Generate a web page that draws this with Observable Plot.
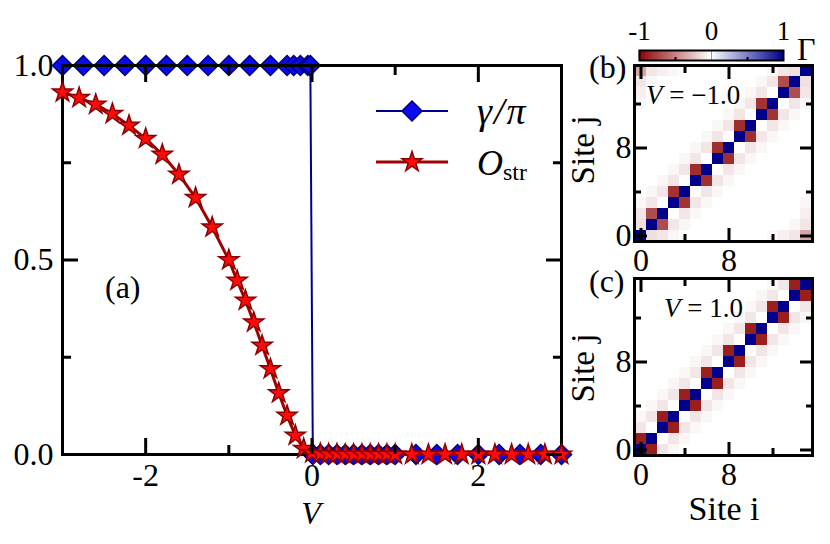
<!DOCTYPE html>
<html><head><meta charset="utf-8">
<script src="https://cdn.jsdelivr.net/npm/d3@7"></script>
<script src="https://cdn.jsdelivr.net/npm/@observablehq/plot@0.6"></script>
<style>
html,body{margin:0;padding:0;background:#fff;}
#root{position:relative;width:830px;height:544px;overflow:hidden;font-family:"Liberation Serif",Tinos,"Times New Roman",Times,"DejaVu Serif",serif;}
#root > svg, #root > figure{position:absolute;margin:0;}
#root text{font-family:"Liberation Serif",Tinos,"Times New Roman",Times,"DejaVu Serif",serif;}
</style></head>
<body><div id="root"></div>
<script>
// ---------- data: panel (a) ----------
const gammaV = [-3,-2.75,-2.5,-2.25,-2,-1.75,-1.5,-1.25,-1,-0.75,-0.5,-0.3,-0.22,-0.14,-0.05,-0.02,
                0.01,0.1,0.2,0.3,0.4,0.5,0.6,0.7,0.8,0.9,1.0,1.25,1.5,1.75,2,2.25,2.5,2.75,3];
const gammaVal = [1,1,1,1,1,1,1,1,1,1,1,1,1,1,1,1,
                  0,0,0,0,0,0,0,0,0,0,0,0,0,0,0,0,0,0,0];
const ostrV = [-3,-2.8,-2.6,-2.4,-2.2,-2,-1.8,-1.6,-1.4,-1.2,-1,-0.9,-0.8,-0.7,-0.6,-0.5,-0.4,-0.3,-0.2,-0.1,
               0,0.1,0.2,0.3,0.4,0.5,0.6,0.7,0.8,0.9,1,1.2,1.4,1.6,1.8,2,2.2,2.4,2.6,2.8,3];
const ostrVal = [0.931,0.917,0.900,0.876,0.846,0.812,0.771,0.720,0.660,0.584,0.500,0.447,0.396,0.340,0.280,0.220,0.158,0.100,0.049,0.015,
                 0.004,0.002,0.001,0.001,0,0,0,0,0,0,0,0,0,0,0,0,0,0,0,0,0];
const xMajor = [-2,0,2], xMinor = [-1,1];
const yMajor = [0,0.5,1], yMinor = [0.25,0.75];
const seriesLabels = ["γ/π", "O", "str"];

// ---------- data: panels (b), (c) — Γ(i,j), rows = site j (0 at bottom), columns = site i ----------
const sites = [0,1,2,3,4,5,6,7,8,9,10,11,12,13,14,15];
const gammaB = [ // V = -1.0
 [1,-0.12,-0.1,-0.03,0,0,0,0,0,0,0,0,-0.03,-0.06,-0.1,-0.35],
 [-0.12,1,-0.7,-0.1,-0.03,0,0,0,0,0,0,0,0,0,-0.03,-0.1],
 [-0.1,-0.7,1,0,-0.1,-0.03,0,0,0,0,0,0,0,0,0,-0.06],
 [-0.03,-0.1,0,1,-0.8,-0.1,-0.03,0,0,0,0,0,0,0,0,-0.03],
 [0,-0.03,-0.1,-0.8,1,0,-0.1,-0.03,0,0,0,0,0,0,0,0],
 [0,0,-0.03,-0.1,0,1,-0.82,-0.1,-0.03,0,0,0,0,0,0,0],
 [0,0,0,-0.03,-0.1,-0.82,1,0,-0.1,-0.03,0,0,0,0,0,0],
 [0,0,0,0,-0.03,-0.1,0,1,-0.82,-0.1,-0.03,0,0,0,0,0],
 [0,0,0,0,0,-0.03,-0.1,-0.82,1,0,-0.1,-0.03,0,0,0,0],
 [0,0,0,0,0,0,-0.03,-0.1,0,1,-0.82,-0.1,-0.03,0,0,0],
 [0,0,0,0,0,0,0,-0.03,-0.1,-0.82,1,0,-0.1,-0.03,0,0],
 [0,0,0,0,0,0,0,0,-0.03,-0.1,0,1,-0.8,-0.1,-0.03,0],
 [-0.03,0,0,0,0,0,0,0,0,-0.03,-0.1,-0.8,1,0,-0.1,-0.03],
 [-0.06,0,0,0,0,0,0,0,0,0,-0.03,-0.1,0,1,-0.7,-0.1],
 [-0.1,-0.03,0,0,0,0,0,0,0,0,0,-0.03,-0.1,-0.7,1,-0.12],
 [-0.35,-0.1,-0.06,-0.03,0,0,0,0,0,0,0,0,-0.03,-0.1,-0.12,1]
];
const gammaC = [ // V = 1.0
 [1,-0.88,-0.1,-0.03,0,0,0,0,0,0,0,0,0,0,0,0],
 [-0.88,1,0,-0.1,-0.03,0,0,0,0,0,0,0,0,0,0,0],
 [-0.1,0,1,-0.88,-0.1,-0.03,0,0,0,0,0,0,0,0,0,0],
 [-0.03,-0.1,-0.88,1,0,-0.1,-0.03,0,0,0,0,0,0,0,0,0],
 [0,-0.03,-0.1,0,1,-0.88,-0.1,-0.03,0,0,0,0,0,0,0,0],
 [0,0,-0.03,-0.1,-0.88,1,0,-0.1,-0.03,0,0,0,0,0,0,0],
 [0,0,0,-0.03,-0.1,0,1,-0.88,-0.1,-0.03,0,0,0,0,0,0],
 [0,0,0,0,-0.03,-0.1,-0.88,1,0,-0.1,-0.03,0,0,0,0,0],
 [0,0,0,0,0,-0.03,-0.1,0,1,-0.88,-0.1,-0.03,0,0,0,0],
 [0,0,0,0,0,0,-0.03,-0.1,-0.88,1,0,-0.1,-0.03,0,0,0],
 [0,0,0,0,0,0,0,-0.03,-0.1,0,1,-0.88,-0.1,-0.03,0,0],
 [0,0,0,0,0,0,0,0,-0.03,-0.1,-0.88,1,0,-0.1,-0.03,0],
 [0,0,0,0,0,0,0,0,0,-0.03,-0.1,0,1,-0.88,-0.1,-0.03],
 [0,0,0,0,0,0,0,0,0,0,-0.03,-0.1,-0.88,1,0,-0.1],
 [0,0,0,0,0,0,0,0,0,0,0,-0.03,-0.1,0,1,-0.88],
 [0,0,0,0,0,0,0,0,0,0,0,0,-0.03,-0.1,-0.88,1]
];
const heatMajor = [0,8], heatMinor = [4,12];
const cbTicks = [-1,0,1], cbMinor = [-0.5,0.5];

// ---------- build ----------
const root = document.getElementById("root");
const FONT = '"Liberation Serif", Tinos, "Times New Roman", Times, "DejaVu Serif", serif';
const baseStyle = {fontFamily: FONT, background: "transparent", color: "black", overflow: "visible"};
function place(el, left, top){ el.style.position="absolute"; el.style.left=left+"px"; el.style.top=top+"px"; root.appendChild(el); }

const gammaData = gammaV.map((V,k)=>({V, g: gammaVal[k]}));
const ostrData = ostrV.map((V,k)=>({V, o: ostrVal[k]}));

function inTicks(kind, anchor, ticks, size){
  const f = kind === "x" ? Plot.axisX : Plot.axisY;
  return f({anchor, ticks, tickSize: -size, tickFormat: () => "", strokeWidth: 3, label: null});
}

const main = Plot.plot({
  width: 600, height: 544,
  marginLeft: 62, marginRight: 39, marginTop: 65, marginBottom: 90,
  style: baseStyle,
  x: {domain: [-3,3], label: null},
  y: {domain: [0,1], label: null},
  marks: [
    Plot.line(gammaData, {x:"V", y:"g", stroke:"#000090", strokeWidth: 2}),
    Plot.dot(gammaData, {x:"V", y:"g", symbol:"diamond2", r: 9, fill:"#0a0af0", stroke:"#00007a", strokeWidth: 1.5}),
    Plot.frame({stroke:"black", strokeWidth: 3}),
    Plot.line(ostrData, {x:"V", y:"o", stroke:"#a00000", strokeWidth: 3}),
    Plot.dot(ostrData, {x:"V", y:"o", symbol:"star", r: 6.3, fill:"#ff0a0a", stroke:"#8b0000", strokeWidth: 1.5}),
    Plot.axisX({anchor:"bottom", ticks: xMajor, tickSize: 0, tickPadding: 9, tickFormat: d => String(d), fontSize: 32, label: null}),
    Plot.axisY({anchor:"left", ticks: yMajor, tickSize: 0, tickPadding: 9, tickFormat: d3.format(".1f"), fontSize: 32, label: null}),
    inTicks("x","bottom", xMajor, 16), inTicks("x","top", xMajor, 16),
    inTicks("x","bottom", xMinor, 9), inTicks("x","top", xMinor, 9),
    inTicks("y","left", yMajor, 16), inTicks("y","right", yMajor, 16),
    inTicks("y","left", yMinor, 9), inTicks("y","right", yMinor, 9)
  ]
});
place(main, 0, 0);

const colorOpts = {type: "linear", domain: [-1, 0, 1], range: ["#8b0000", "#ffffff", "#00008b"], interpolate: "rgb", clamp: true};

function heat(matrix, top, height, mt, mb){
  const cells = [];
  matrix.forEach((row, j) => row.forEach((v, i) => cells.push({i: sites[i], j: sites[j], v})));
  const p = Plot.plot({
    width: 270, height,
    marginLeft: 74, marginRight: 18, marginTop: mt, marginBottom: mb,
    style: baseStyle,
    x: {type: "band", domain: sites, padding: 0, label: null},
    y: {type: "band", domain: sites, padding: 0, reverse: true, label: null},
    color: colorOpts,
    marks: [
      Plot.cell(cells, {x: "i", y: "j", fill: "v", inset: 0}),
      Plot.frame({stroke: "black", strokeWidth: 3}),
      Plot.axisX({anchor:"bottom", ticks: heatMajor, tickSize: 0, tickPadding: 7, fontSize: 32, label: null}),
      Plot.axisY({anchor:"left", ticks: heatMajor, tickSize: 0, tickPadding: 3, fontSize: 32, label: null}),
      inTicks("x","bottom", heatMajor, 13), inTicks("x","top", heatMajor, 13),
      inTicks("x","bottom", heatMinor, 7), inTicks("x","top", heatMinor, 7),
      inTicks("y","left", heatMajor, 13), inTicks("y","right", heatMajor, 13),
      inTicks("y","left", heatMinor, 7), inTicks("y","right", heatMinor, 7)
    ]
  });
  place(p, 560, top);
}
heat(gammaB, 0, 275, 65, 34);
heat(gammaC, 275, 269, 3, 89);

// colorbar
const ramp = d3.range(0, 200).map(k => ({a: -1 + k*0.01, b: -1 + (k+1)*0.01}));
const cb = Plot.plot({
  width: 230, height: 66, marginLeft: 39, marginRight: 47, marginTop: 50, marginBottom: 6,
  style: baseStyle,
  x: {domain: [-1, 1], label: null},
  color: colorOpts,
  marks: [
    Plot.rect(ramp, {x1: "a", x2: "b", fill: d => (d.a + d.b) / 2, insetLeft: -0.3, insetRight: -0.3}),
    Plot.ruleX([0], {stroke: "#999", strokeWidth: 1}),
    Plot.frame({stroke: "black", strokeWidth: 2}),
    Plot.axisX({anchor: "top", ticks: cbTicks, tickSize: 0, tickPadding: 11, tickFormat: d => String(d), fontSize: 27, label: null}),
    Plot.axisX({anchor: "bottom", ticks: cbMinor, tickSize: -3, tickFormat: () => "", strokeWidth: 2, label: null})
  ]
});
place(cb, 600, 0);

// text overlay and legend
const ov = d3.create("svg").attr("width", 830).attr("height", 544)
  .style("position","absolute").style("left","0px").style("top","0px")
  .style("font-family", FONT).attr("fill", "black");
ov.append("text").attr("x", 105).attr("y", 298).attr("font-size", 32).text("(a)");
ov.append("text").attr("x", 311).attr("y", 524).attr("font-size", 32).attr("font-style","italic").attr("text-anchor","middle").text("V");
// legend
const lg = ov.append("g");
lg.append("line").attr("x1", 376).attr("x2", 448).attr("y1", 111).attr("y2", 111).attr("stroke", "#000090").attr("stroke-width", 2);
lg.append("path").attr("transform","translate(412,111)").attr("d", d3.symbol(d3.symbolDiamond2, Math.PI*81)()).attr("fill","#0a0af0").attr("stroke","#00007a").attr("stroke-width",1.5);
lg.append("line").attr("x1", 376).attr("x2", 448).attr("y1", 162).attr("y2", 162).attr("stroke", "#a00000").attr("stroke-width", 3);
lg.append("path").attr("transform","translate(412,162)").attr("d", d3.symbol(d3.symbolStar, Math.PI*6.3*6.3)()).attr("fill","#ff0a0a").attr("stroke","#8b0000").attr("stroke-width",1.5);
lg.append("text").attr("x", 477).attr("y", 124).attr("font-size", 38).attr("font-style","italic").attr("letter-spacing", 2).text(seriesLabels[0]);
const t2 = lg.append("text").attr("x", 477).attr("y", 175).attr("font-size", 36);
t2.append("tspan").attr("font-style","italic").text(seriesLabels[1]);
t2.append("tspan").attr("font-size", 24).attr("dy", 5).text(seriesLabels[2]);
// heatmap texts
ov.append("text").attr("x", 589).attr("y", 78).attr("font-size", 32).text("(b)");
ov.append("text").attr("x", 589).attr("y", 292).attr("font-size", 32).text("(c)");
ov.append("text").attr("transform","translate(594,150) rotate(-90)").attr("text-anchor","middle").attr("font-size", 33).text("Site j");
ov.append("text").attr("transform","translate(594,368) rotate(-90)").attr("text-anchor","middle").attr("font-size", 33).text("Site j");
ov.append("text").attr("x", 724).attr("y", 520).attr("text-anchor","middle").attr("font-size", 34).text("Site i");
const vb = ov.append("text").attr("x", 646).attr("y", 104).attr("font-size", 27);
vb.append("tspan").attr("font-style","italic").text("V");
vb.append("tspan").text(" = −1.0");
const vc = ov.append("text").attr("x", 664).attr("y", 317).attr("font-size", 27);
vc.append("tspan").attr("font-style","italic").text("V");
vc.append("tspan").text(" = 1.0");
ov.append("text").attr("x", 797).attr("y", 60).attr("font-size", 32).text("Γ");
root.appendChild(ov.node());
</script>
</body></html>
